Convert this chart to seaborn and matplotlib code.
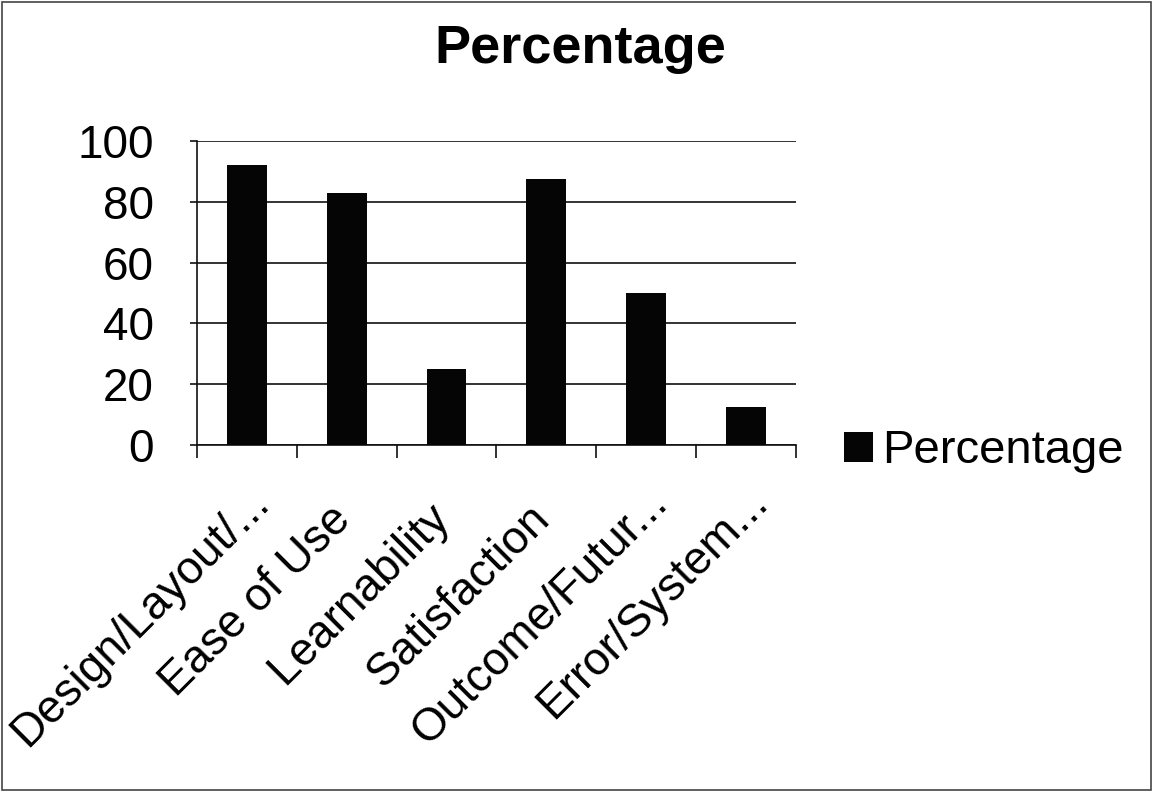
import matplotlib
matplotlib.use("Agg")
import matplotlib.pyplot as plt
import matplotlib.patches as mpatches
import seaborn as sns
import pandas as pd
import numpy as np

categories = ["Design/Layout/...", "Ease of Use", "Learnability",
              "Satisfaction", "Outcome/Futur...", "Error/System..."]
values = [92, 83, 25, 87.5, 50, 12.5]
series_name = "Percentage"
y_ticks = [0, 20, 40, 60, 80, 100]

sns.set_theme(style="white")
plt.rcParams["font.family"] = ["Liberation Sans", "DejaVu Sans"]
plt.rcParams["text.color"] = "black"
plt.rcParams["xtick.color"] = "black"
plt.rcParams["ytick.color"] = "black"

df = pd.DataFrame({"category": categories, "value": values,
                   "series": [series_name] * len(categories)})

fig = plt.figure(figsize=(11.53, 7.92), dpi=100)
ax = fig.add_axes([0.171, 0.438, 0.519, 0.384])

sns.barplot(data=df, x="category", y="value", hue="series",
            palette=["#050505"], width=0.4, dodge=False, ax=ax,
            saturation=1, edgecolor="none", zorder=3)

ax.set_xlim(-0.5, len(categories) - 0.5)
ax.set_ylim(0, 100)
ax.set_yticks(y_ticks)
ax.set_yticklabels([str(t) for t in y_ticks], fontsize=33)
ax.yaxis.grid(True, color="#111111", linewidth=1.2, zorder=0)
ax.xaxis.grid(False)

# full labels keep a little room at their end, the way truncated ones
# spill their ellipsis past the tick
tick_text = [c if c.endswith("...") else c + "  " for c in categories]
ax.set_xticks(np.arange(len(categories)))
ax.set_xticklabels(tick_text, fontsize=33, rotation=45, ha="right",
                   va="top", rotation_mode="anchor")
ax.set_xticks(np.arange(-0.5, len(categories)), minor=True)
ax.tick_params(axis="x", which="major", length=0, pad=25)
ax.tick_params(axis="x", which="minor", length=9, width=1.2,
               color="#111111", direction="out", bottom=True)
ax.tick_params(axis="y", which="major", length=5, width=1.2,
               color="#111111", direction="out", left=True, pad=26)

ax.set_xlabel("")
ax.set_ylabel("")
for side in ["top", "right"]:
    ax.spines[side].set_visible(False)
for side in ["left", "bottom"]:
    ax.spines[side].set_visible(True)
    ax.spines[side].set_color("#111111")
    ax.spines[side].set_linewidth(1.2)

leg = ax.legend(loc="center left", bbox_to_anchor=(1.05, -0.02),
                frameon=False, fontsize=34, handlelength=0.6,
                handleheight=0.6, handletextpad=0.2, borderaxespad=0)

fig.text(0.503, 1 - 63 / 792, "Percentage", fontsize=39,
         fontweight="bold", ha="center", va="baseline")

# thin frame around the whole chart
fig.patches.append(mpatches.Rectangle((0.002, 0.003), 0.996, 0.994,
                                      transform=fig.transFigure,
                                      fill=False, edgecolor="#444444",
                                      linewidth=1.2))

fig.savefig("out.png", dpi=100, facecolor="white")
